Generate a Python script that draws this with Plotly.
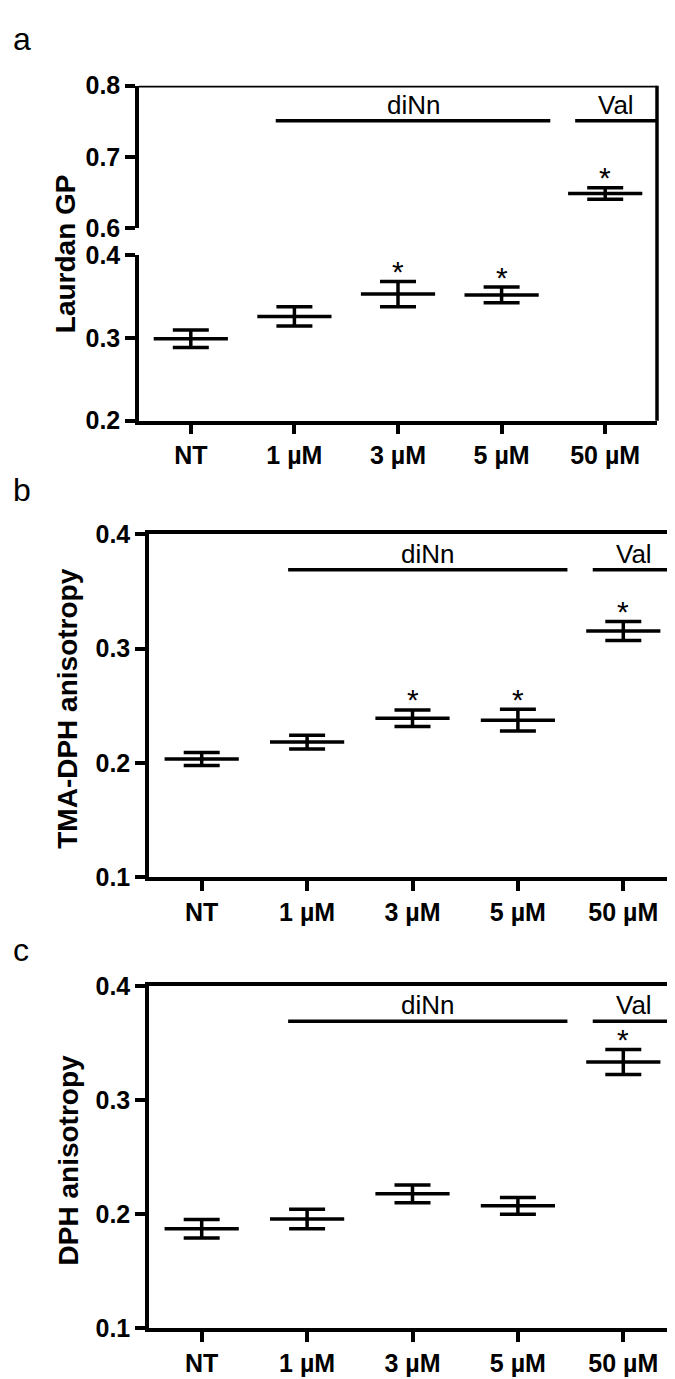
import plotly.graph_objects as go

# dados
categorias = ["NT", "1 µM", "3 µM", "5 µM", "50 µM"]
posicoes = [0, 1, 2, 3, 4]

laurdan_media = [0.299, 0.326, 0.353, 0.352, 0.649]
laurdan_erro = [0.0106, 0.0117, 0.0152, 0.0095, 0.008]
laurdan_sig = [False, False, True, True, True]

tma_media = [0.2035, 0.2183, 0.2392, 0.2374, 0.3154]
tma_erro = [0.0057, 0.006, 0.0072, 0.0095, 0.0083]
tma_sig = [False, False, True, True, True]

dph_media = [0.187, 0.1956, 0.2177, 0.2071, 0.3334]
dph_erro = [0.0082, 0.0086, 0.0078, 0.0073, 0.011]
dph_sig = [False, False, False, False, True]

grupos = ["diNn", "Val"]
grupos_inicio = [0.82, 3.71]
grupos_fim = [3.47, 4.5]

W, H = 675, 1379
FONTE = "Liberation Sans, Arial, sans-serif"
LW = 3.5


def px_x(p):
    return p / W


def px_y(p):
    return 1 - p / H


fig = go.Figure()


def erro_trace(medias, erros, idx, xa, ya):
    # line-ew desenha 1.4 x size de comprimento
    fig.add_trace(go.Scatter(
        x=[posicoes[i] for i in idx], y=[medias[i] for i in idx],
        xaxis=xa, yaxis=ya, mode="markers", showlegend=False, hoverinfo="skip",
        marker=dict(symbol="line-ew", size=53, color="black", line=dict(width=LW, color="black")),
        error_y=dict(type="data", array=[erros[i] for i in idx], color="black", thickness=LW, width=18),
    ))


def estrelas(medias, erros, sig, idx, xa, ya):
    for i in idx:
        if sig[i]:
            fig.add_annotation(x=posicoes[i], y=medias[i] + erros[i], xref=xa, yref=ya,
                               text="*", showarrow=False, yanchor="middle", yshift=10,
                               font=dict(family=FONTE, size=30, color="black"))


def chaves(y_linha, xa, ya):
    for nome, x0, x1 in zip(grupos, grupos_inicio, grupos_fim):
        fig.add_shape(type="line", xref=xa, yref=ya, x0=x0, x1=x1, y0=y_linha, y1=y_linha,
                      line=dict(color="black", width=LW))
        fig.add_annotation(x=(x0 + x1) / 2, y=y_linha, xref=xa, yref=ya, text=nome,
                           showarrow=False, yanchor="bottom", yshift=-1,
                           font=dict(family=FONTE, size=26, color="black"))


# painel a (eixo quebrado)
erro_trace(laurdan_media, laurdan_erro, [0, 1, 2, 3], "x", "y")
erro_trace(laurdan_media, laurdan_erro, [4], "x", "y2")
estrelas(laurdan_media, laurdan_erro, laurdan_sig, [0, 1, 2, 3], "x", "y")
estrelas(laurdan_media, laurdan_erro, laurdan_sig, [4], "x", "y2")
chaves(0.751, "x", "y2")

# painel b
erro_trace(tma_media, tma_erro, posicoes, "x2", "y3")
estrelas(tma_media, tma_erro, tma_sig, posicoes, "x2", "y3")
chaves(0.369, "x2", "y3")

# painel c
erro_trace(dph_media, dph_erro, posicoes, "x3", "y4")
estrelas(dph_media, dph_erro, dph_sig, posicoes, "x3", "y4")
chaves(0.369, "x3", "y4")

eixo_x = dict(range=[-0.5, 4.5], tickvals=posicoes, ticktext=categorias, showline=True,
              linecolor="black", linewidth=LW, ticks="outside", ticklen=10, tickwidth=LW,
              tickcolor="black", showgrid=False, zeroline=False, fixedrange=True,
              tickfont=dict(family=FONTE, size=25, color="black", weight="bold"))
eixo_y = dict(showline=True, linecolor="black", linewidth=LW, ticks="outside", ticklen=10,
              tickwidth=LW, tickcolor="black", showgrid=False, zeroline=False, tickformat=".1f",
              tickfont=dict(family=FONTE, size=25, color="black", weight="bold"))

dom_a = [px_x(131), px_x(649)]
dom_bc = [px_x(141), px_x(668)]
ya_baixo = [px_y(407), px_y(238)]
ya_cima = [px_y(210.7), px_y(65)]
yb = [px_y(873), px_y(523)]
yc = [px_y(1333), px_y(984)]

fig.update_layout(
    width=W, height=H, margin=dict(l=0, r=0, t=0, b=0),
    paper_bgcolor="white", plot_bgcolor="white", showlegend=False,
    xaxis=dict(eixo_x, domain=dom_a, anchor="y"),
    yaxis=dict(eixo_y, domain=ya_baixo, anchor="x", range=[0.2, 0.4], tickvals=[0.2, 0.3, 0.4]),
    yaxis2=dict(eixo_y, domain=ya_cima, anchor="x", range=[0.6, 0.8], tickvals=[0.6, 0.7, 0.8]),
    xaxis2=dict(eixo_x, domain=dom_bc, anchor="y3", mirror=True),
    yaxis3=dict(eixo_y, domain=yb, anchor="x2", range=[0.1, 0.4], tickvals=[0.1, 0.2, 0.3, 0.4], mirror=True),
    xaxis3=dict(eixo_x, domain=dom_bc, anchor="y4", mirror=True),
    yaxis4=dict(eixo_y, domain=yc, anchor="x3", range=[0.1, 0.4], tickvals=[0.1, 0.2, 0.3, 0.4], mirror=True),
)

# bordas do painel a (topo e direita continua)
fig.add_shape(type="line", xref="x domain", yref="y2", x0=0, x1=1, y0=0.8, y1=0.8,
              line=dict(color="black", width=LW))
fig.add_shape(type="line", xref="x domain", yref="paper", x0=1, x1=1, y0=ya_baixo[0], y1=ya_cima[1],
              line=dict(color="black", width=LW))

# titulos dos eixos y
titulos = [("Laurdan GP", 57, 237), ("TMA-DPH anisotropy", 60, 701), ("DPH anisotropy", 60, 1162)]
for texto, tx, ty in titulos:
    fig.add_annotation(x=px_x(tx), y=px_y(ty), xref="paper", yref="paper", text=texto,
                       textangle=-90, showarrow=False, xanchor="center", yanchor="middle",
                       font=dict(family=FONTE, size=28, color="black", weight="bold"))

# letras dos paineis
for letra, lx, ly in [("a", 14, 17), ("b", 14, 478), ("c", 13, 947)]:
    fig.add_annotation(x=px_x(lx), y=px_y(ly), xref="paper", yref="paper", text=letra,
                       showarrow=False, xanchor="center", yanchor="middle",
                       font=dict(family=FONTE, size=32, color="black"))

fig.write_html("out.html")
